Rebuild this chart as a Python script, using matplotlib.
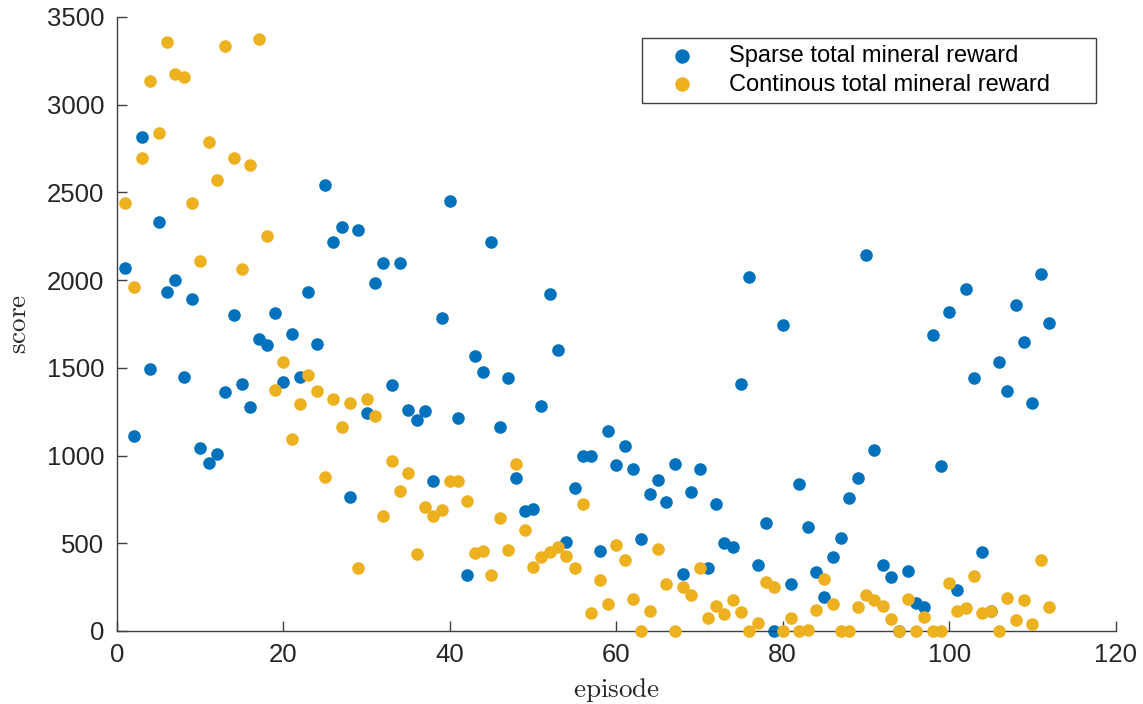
import matplotlib
matplotlib.use("Agg")
import matplotlib.pyplot as plt
import numpy as np

episodes = list(range(1, 113))

sparse_reward = [
    2070, 1110, 2815, 1495, 2330, 1935, 2000, 1450, 1890, 1045,
    955, 1010, 1365, 1800, 1410, 1275, 1665, 1630, 1810, 1420,
    1695, 1450, 1935, 1635, 2540, 2220, 2300, 765, 2285, 1240,
    1985, 2100, 1405, 2095, 1260, 1205, 1255, 855, 1785, 2450,
    1215, 320, 1565, 1475, 2220, 1165, 1440, 870, 685, 695,
    1285, 1920, 1600, 505, 815, 995, 995, 455, 1140, 945,
    1055, 925, 525, 780, 860, 735, 950, 325, 795, 925,
    360, 725, 500, 480, 1410, 2015, 375, 615, 0, 1745,
    270, 840, 595, 335, 195, 420, 530, 760, 870, 2145,
    1030, 375, 305, 0, 340, 160, 135, 1685, 940, 1820,
    235, 1950, 1440, 450, 115, 1535, 1370, 1860, 1650, 1300,
    2035, 1755,
]

continuous_reward = [
    2440, 1960, 2695, 3135, 2840, 3355, 3175, 3155, 2440, 2110,
    2790, 2570, 3335, 2695, 2065, 2655, 3375, 2250, 1375, 1535,
    1095, 1295, 1460, 1370, 875, 1325, 1160, 1300, 360, 1320,
    1225, 655, 970, 800, 900, 440, 705, 655, 690, 855,
    855, 740, 445, 455, 320, 645, 460, 950, 575, 365,
    420, 450, 480, 430, 360, 725, 100, 290, 155, 490,
    405, 180, 0, 115, 470, 270, 0, 250, 205, 360,
    75, 145, 95, 175, 110, 0, 45, 280, 250, 0,
    75, 0, 5, 120, 295, 155, 0, 0, 135, 205,
    175, 145, 70, 0, 180, 0, 80, 0, 0, 275,
    115, 130, 315, 105, 115, 0, 190, 60, 175, 40,
    405, 135,
]

labels = ["Sparse total mineral reward", "Continous total mineral reward"]
x_ticks = [0, 20, 40, 60, 80, 100, 120]
y_ticks = [0, 500, 1000, 1500, 2000, 2500, 3000, 3500]

plt.rcParams["font.family"] = ["Liberation Sans", "DejaVu Sans"]
plt.rcParams["mathtext.fontset"] = "cm"

blue = "#0072BD"
orange = "#EDB120"
axcol = "#404040"
txtcol = "#262626"

fig = plt.figure(figsize=(11.43, 7.04), dpi=100)
ax = fig.add_axes([0.1024, 0.1037, 0.8736, 0.8722])

ax.scatter(episodes, sparse_reward, s=82, color=blue, linewidths=0,
           label=labels[0], zorder=2, clip_on=False)
ax.scatter(episodes, continuous_reward, s=82, color=orange, linewidths=0,
           label=labels[1], zorder=3, clip_on=False)

ax.set_xlim(0, 120)
ax.set_ylim(0, 3500)
ax.set_xticks(x_ticks)
ax.set_yticks(y_ticks)
ax.tick_params(direction="in", length=7, width=1, color=axcol, labelsize=18.5,
               labelcolor=txtcol)
ax.tick_params(axis="y", pad=9)
ax.tick_params(axis="x", pad=9)
for side in ["top", "right"]:
    ax.spines[side].set_visible(False)
for side in ["left", "bottom"]:
    ax.spines[side].set_color(axcol)
    ax.spines[side].set_linewidth(1)

ax.set_xlabel(r"$\mathrm{episode}$", fontsize=19.5, color=txtcol, labelpad=6)
ax.set_ylabel(r"$\mathrm{score}$", fontsize=19.5, color=txtcol, labelpad=11)

leg = ax.legend(loc="upper left", bbox_to_anchor=(0.5255, 0.865, 0.4545, 0.101),
                mode="expand", fontsize=17, frameon=True, fancybox=False,
                framealpha=1, edgecolor=axcol, scatterpoints=1, markerscale=1.15,
                handlelength=2.8, handletextpad=0.6, borderpad=0.3,
                labelspacing=0.28, borderaxespad=0)
leg.get_frame().set_linewidth(1)
for t in leg.get_texts():
    t.set_color("#000000")

fig.savefig("out.png", dpi=100)
